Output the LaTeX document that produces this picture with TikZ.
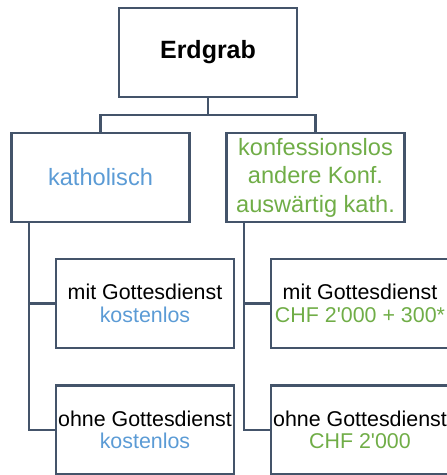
\documentclass[tikz,border=0pt]{standalone}
\usepackage{fontspec}
\setmainfont{Liberation Sans}
\usepackage{tikz}

\definecolor{rahmen}{HTML}{44546A}
\definecolor{blau}{HTML}{5B9BD5}
\definecolor{gruen}{HTML}{70AD47}

\begin{document}
\begin{tikzpicture}[x=1pt, y=-1pt,
box/.style={draw=rahmen, line width=2.8pt, minimum width=178pt, minimum height=89pt,
  inner sep=0pt, align=center, font=\fontsize{21.4}{22.5}\selectfont},
mittel/.style={box, font=\fontsize{23.6}{28.5}\selectfont},
verbind/.style={draw=rahmen, line width=2.8pt}]

\useasboundingbox (0,0) rectangle (447,475);

\def\ast{71.5}	% Abstand Stamm zur Boxmitte

% Ebene 1 und 2
\node[box, font=\fontsize{25}{30}\selectfont\bfseries] (erdgrab) at (208,52.5) {Erdgrab};
\node[mittel, text=blau] (kath) at (100.5,177.5) {katholisch};
\node[mittel, text=gruen] (konf) at (315.5,177.5) {konfessionslos\\andere Konf.\\auswärtig kath.};

% Ebene 3
\node[box] (kathmit) at (145,303.5) {mit Gottesdienst\\\textcolor{blau}{kostenlos}};
\node[box] (kathohne) at (145,430) {ohne Gottesdienst\\\textcolor{blau}{kostenlos}};
\node[box] (konfmit) at (360,303.5) {mit Gottesdienst\\\textcolor{gruen}{CHF 2\textquotesingle000 + 300*}};
\node[box] (konfohne) at (360,430) {ohne Gottesdienst\\\textcolor{gruen}{CHF 2\textquotesingle000}};

\coordinate (gabel) at (208,115);
\draw[verbind] (erdgrab.south) -- (gabel);
\draw[verbind] (kath.north) |- (gabel) -| (konf.north);
\draw[verbind] ([xshift=-\ast pt]kath.south) |- (kathmit.west);
\draw[verbind] ([xshift=-\ast pt]kath.south) |- (kathohne.west);
\draw[verbind] ([xshift=-\ast pt]konf.south) |- (konfmit.west);
\draw[verbind] ([xshift=-\ast pt]konf.south) |- (konfohne.west);

\end{tikzpicture}
\end{document}
